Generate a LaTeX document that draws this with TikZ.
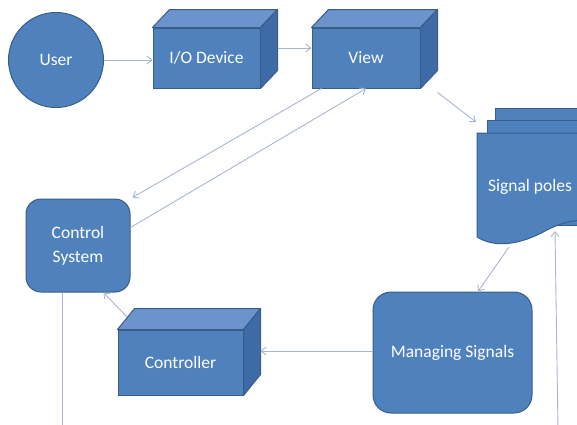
\documentclass[tikz,border=0pt]{standalone}
\usepackage{fontspec}
\setmainfont{Carlito}
\usetikzlibrary{arrows.meta,calc}
\definecolor{boxfill}{RGB}{79,129,189}
\definecolor{boxline}{RGB}{56,93,138}
\definecolor{topface}{RGB}{108,148,204}
\definecolor{sideface}{RGB}{62,106,166}
\definecolor{conn}{RGB}{168,182,206}
\tikzset{
  box/.style={draw=boxline, line width=1pt, fill=boxfill, text=white,
    font=\fontsize{17.5}{24}\selectfont, inner sep=0pt},
  cubefront/.style={box, rectangle},
  rbox/.style={box, rectangle, rounded corners=15pt, align=center},
  face/.style={draw=boxline, line width=1pt, line join=round},
  arr/.style={draw=conn, line width=0.9pt, -{Straight Barb[length=5pt,width=8pt]}},
  ln/.style={draw=conn, line width=0.9pt},
  lbl/.style={text=white, font=\fontsize{17.5}{24}\selectfont, inner sep=0pt},
}
\newcommand\cubefaces[3]{%
  \path[face, fill=topface] (#1.north west) -- ++(#2,-#3) -- ($(#1.north east)+(#2,-#3)$) -- (#1.north east) -- cycle;
  \path[face, fill=sideface] (#1.north east) -- ++(#2,-#3) -- ($(#1.south east)+(#2,-#3)$) -- (#1.south east) -- cycle;
}
\begin{document}
\begin{tikzpicture}[x=1pt,y=-1pt]
\path[use as bounding box] (0,0) rectangle (577,424);
\clip (0,0) rectangle (577,424);

% nodes
\node[box, circle, minimum size=95pt] (user) at (56,60) {User};
\node[cubefront, minimum width=107pt, minimum height=60pt] (io) at (206.5,58) {I/O Device};
\cubefaces{io}{17}{18}
\node[cubefront, minimum width=108pt, minimum height=60pt] (view) at (366,58) {View};
\cubefaces{view}{17}{18}
\node[cubefront, minimum width=125pt, minimum height=65pt] (ctrl) at (180.5,362.5) {Controller};
\cubefaces{ctrl}{17}{21}
\node[rbox, minimum width=104pt, minimum height=93pt] (cs) at (78,245.5) {Control\\System};
\node[rbox, rounded corners=18pt, minimum width=159pt, minimum height=121pt] (ms) at (452.5,352.5) {Managing Signals};

% signal poles (multi-document)
\path[face, fill=boxfill] (495,108) rectangle (600,215);
\path[face, fill=boxfill] (487,120) rectangle (600,225);
\path[face, fill=boxfill] (477,133) -- (600,133) -- (600,220)
  .. controls (575,219) and (562,222) .. (545,231)
  .. controls (525,242) and (498,250) .. (477,237) -- cycle;
\node[lbl] (sp) at (530,187) {Signal poles};
\coordinate (spin) at (476,122);
\coordinate (spbot) at (509,247);
\coordinate (spbot2) at (555,231);
\coordinate (vbot) at (558,430);
\coordinate (csbot) at (62,430);
\coordinate (iov) at ([xshift=17pt,yshift=10pt]io.east);

% connectors
\draw[arr] (user.east) -- (io.west |- user.east);
\draw[arr] (iov) -- (view.west |- iov);
\draw[arr] ([xshift=17pt,yshift=-4pt]view.south east) -- (spin);
\draw[arr] ([xshift=10pt]view.south west) -- ([xshift=2pt,yshift=1pt]cs.north east);
\draw[arr] ([yshift=18pt]cs.east) -- (view.south);
\draw[arr] (spbot) -- ([xshift=25.5pt]ms.north);
\draw[arr] (vbot) -- (spbot2);
\draw[arr] ([yshift=1.5pt]ms.west) -- ([xshift=17pt,yshift=11.5pt]ctrl.east);
\draw[arr] ([xshift=9pt,yshift=13pt]ctrl.north west) -- ([xshift=-27pt]cs.south east);
\draw[ln] ([xshift=-16pt]cs.south) -- (csbot);
\end{tikzpicture}
\end{document}
